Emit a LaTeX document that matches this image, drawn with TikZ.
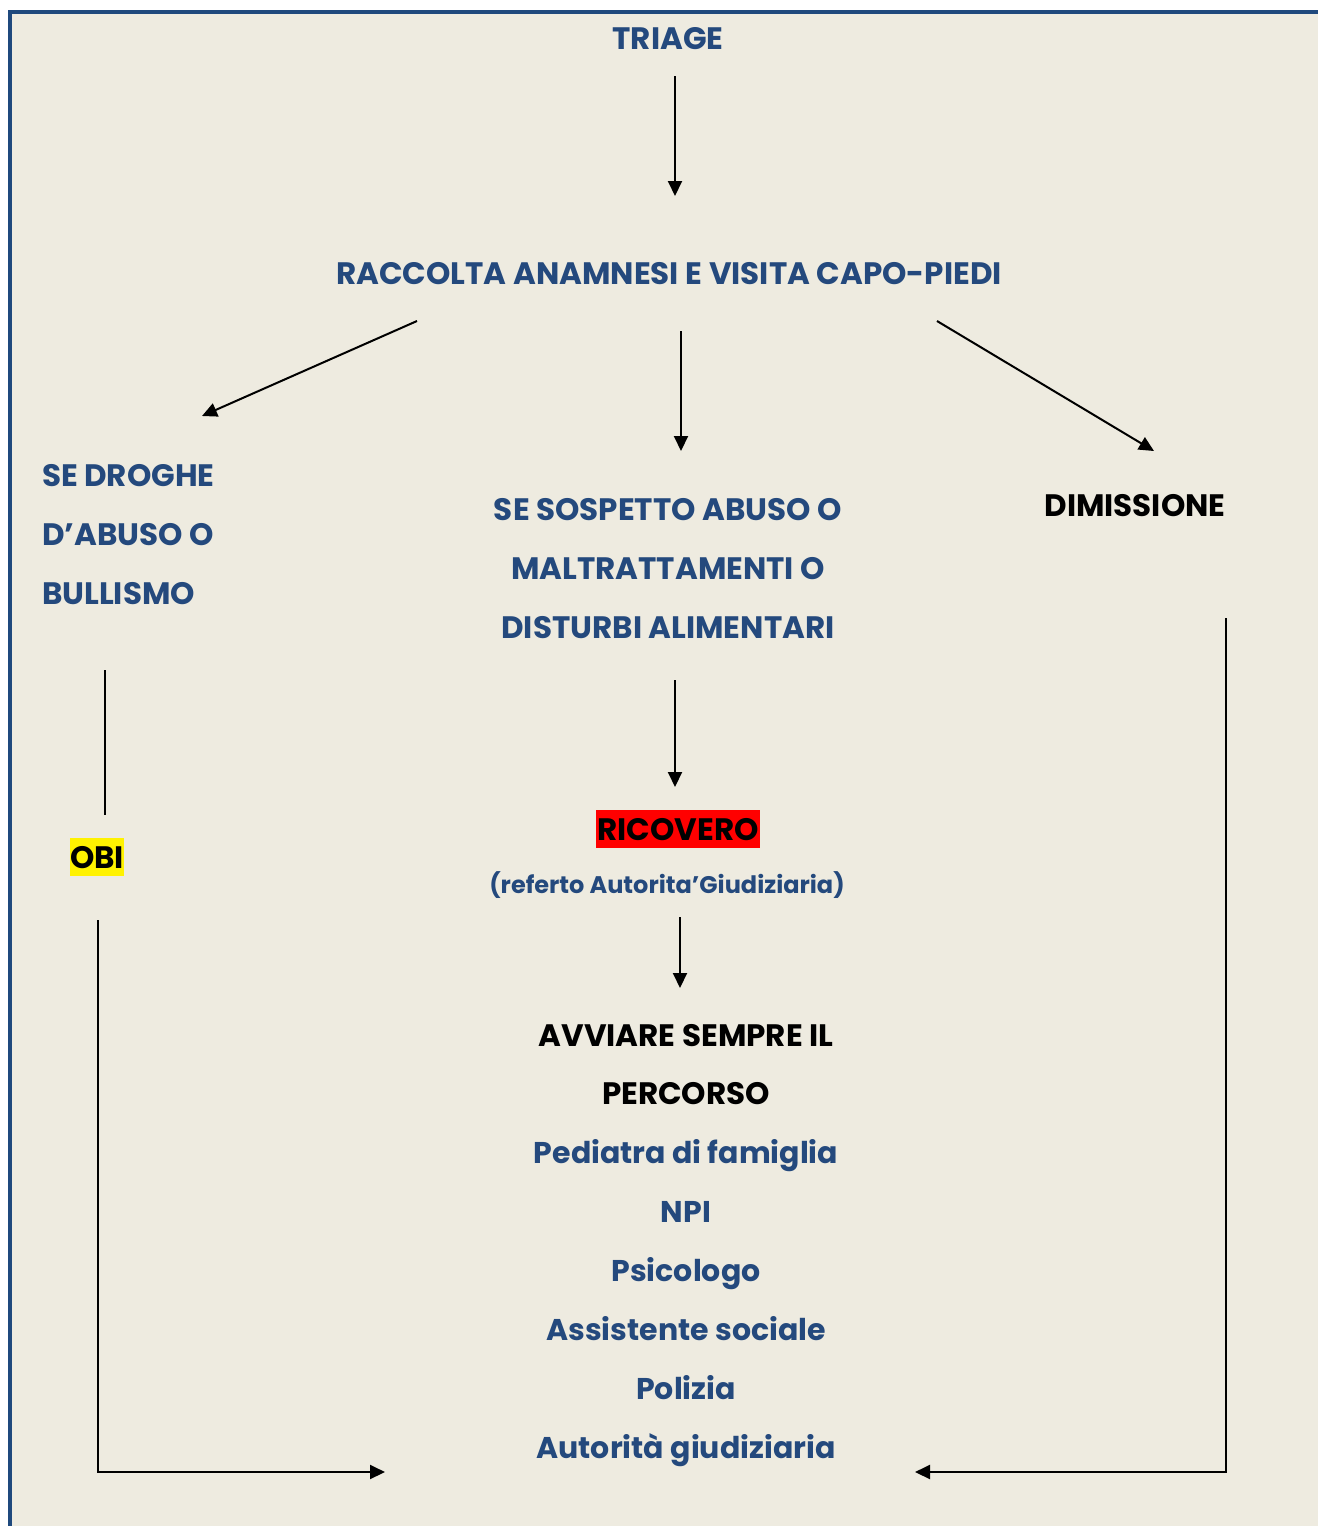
\documentclass[tikz,border=0pt]{standalone}
\usepackage{fontspec}
\setmainfont{Poppins}
\usetikzlibrary{arrows.meta}
\definecolor{paper}{HTML}{EEEBE0}
\definecolor{frameblue}{HTML}{1F497D}
\definecolor{textblue}{HTML}{24497D}
\tikzset{
  every node/.style={inner sep=0pt, outer sep=0pt, anchor=base, font=\fontsize{31}{31}\selectfont\bfseries},
  head/.style={text=textblue},
  headblack/.style={text=black},
  listitem/.style={text=textblue, font=\fontsize{30}{30}\selectfont\bfseries},
  small/.style={text=textblue, font=\fontsize{24}{24}\selectfont\bfseries},
  arr/.style={line width=2pt, -{Triangle[length=15pt,width=14pt]}},
  plain/.style={line width=2pt},
}
\begin{document}
\begin{tikzpicture}[x=1pt,y=-1pt]
\useasboundingbox (0,0) rectangle (1318,1526);
\fill[white] (0,0) rectangle (1318,1526);
\fill[paper] (10,12) rectangle (1318,1526);
\draw[frameblue, line width=4pt] (10,1526) -- (10,12) -- (1318,12);

% top of the flow
\node[head] (triage) at (668,49.5) {TRIAGE};
\node[head] (raccolta) at (669,284.5) {RACCOLTA ANAMNESI E VISITA CAPO-PIEDI};

% three branches
\node[head, anchor=base west] (drog1) at (42,486.5) {SE DROGHE};
\node[head, anchor=base west] (drog2) at (42,545.5) {D’ABUSO O};
\node[head, anchor=base west] (drog3) at (42,604.5) {BULLISMO};

\node[head] (sosp1) at (668,520.5) {SE SOSPETTO ABUSO O};
\node[head] (sosp2) at (668,579.5) {MALTRATTAMENTI O};
\node[head] (sosp3) at (668,638.5) {DISTURBI ALIMENTARI};

\node[headblack] (dimissione) at (1135,516.5) {DIMISSIONE};

% outcomes
\node[fill=yellow, minimum width=54pt, minimum height=38pt, anchor=center] (obibox) at (97,857) {};
\node[headblack] (obi) at (97,868) {OBI};
\node[fill=red, minimum width=164pt, minimum height=38pt, anchor=center] (ricbox) at (678,829) {};
\node[headblack] (ricovero) at (678,840.5) {RICOVERO};
\node[small] (referto) at (667,893) {(referto Autorita’Giudiziaria)};

% care pathway
\node[headblack] (avv1) at (686,1046.5) {AVVIARE SEMPRE IL};
\node[headblack] (avv2) at (686,1104.5) {PERCORSO};
\node[listitem] (p1) at (686,1163) {Pediatra di famiglia};
\node[listitem] (p2) at (686,1222) {NPI};
\node[listitem] (p3) at (686,1281) {Psicologo};
\node[listitem] (p4) at (686,1340) {Assistente sociale};
\node[listitem] (p5) at (686,1399) {Polizia};
\node[listitem] (p6) at (686,1458) {Autorità giudiziaria};

% connector end points
\coordinate (t0) at (675,76);   \coordinate (t1) at (675,196);
\coordinate (l0) at (417,321);  \coordinate (l1) at (202,416);
\coordinate (m0) at (681,331);  \coordinate (m1) at (681,451);
\coordinate (r0) at (937,321);  \coordinate (r1) at (1154,451);
\coordinate (d0) at (105,670);  \coordinate (d1) at (105,815);
\coordinate (s0) at (675,680);  \coordinate (s1) at (675,787);
\coordinate (f0) at (680,917);  \coordinate (f1) at (680,988);
\coordinate (o0) at (98,920);   \coordinate (oc) at (98,1472);  \coordinate (o1) at (385,1472);
\coordinate (x0) at (1226,618); \coordinate (xc) at (1226,1472); \coordinate (x1) at (915,1472);

\draw[arr] (t0) -- (t1);
\draw[arr] (l0) -- (l1);
\draw[arr] (m0) -- (m1);
\draw[arr] (r0) -- (r1);
\draw[plain] (d0) -- (d1);
\draw[arr] (s0) -- (s1);
\draw[arr] (f0) -- (f1);
\draw[arr] (o0) -- (oc) -- (o1);
\draw[arr] (x0) -- (xc) -- (x1);
\end{tikzpicture}
\end{document}
